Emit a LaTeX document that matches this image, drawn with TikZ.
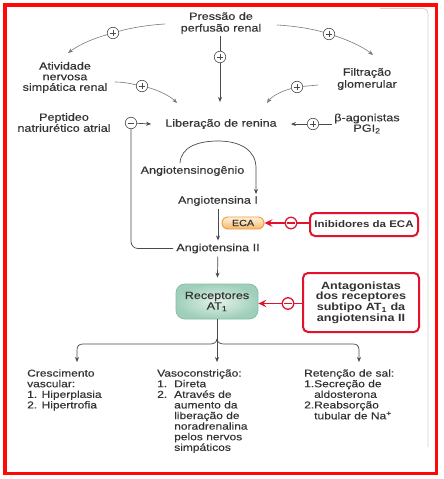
\documentclass[tikz,border=0pt]{standalone}
\usepackage{fontspec}
\setmainfont{Liberation Sans}[FakeStretch=1.2, UprightFeatures={FakeBold=0.3}]
\usetikzlibrary{arrows.meta,shapes.misc}
\definecolor{lnc}{HTML}{4A4A4A}
\definecolor{lightln}{HTML}{7A7A7A}
\definecolor{txt}{HTML}{333333}
\definecolor{redb}{HTML}{E3122C}
\definecolor{framec}{HTML}{FF0808}
\definecolor{ecatop}{HTML}{FFF2DA}
\definecolor{ecabot}{HTML}{F6B86A}
\definecolor{ecaline}{HTML}{EE9A40}
\definecolor{recin}{HTML}{E4F2EA}
\definecolor{recout}{HTML}{9FCFBB}
\definecolor{recline}{HTML}{86BFA9}
\begin{document}
\begin{tikzpicture}[x=1pt,y=-1pt,
  every node/.style={text=txt, font=\fontsize{10.5}{11}\selectfont},
  lbl/.style={inner sep=2pt, align=center},
  blk/.style={inner sep=0pt, anchor=north west, font=\fontsize{10}{10.6}\selectfont},
  plus/.style={circle, draw=lnc, line width=0.6pt, minimum size=11.5pt, inner sep=0pt, fill=white,
    path picture={\draw[lnc,line width=0.7pt]
      ([xshift=-3.3pt]path picture bounding box.center) -- ([xshift=3.3pt]path picture bounding box.center)
      ([yshift=-3.3pt]path picture bounding box.center) -- ([yshift=3.3pt]path picture bounding box.center);}},
  minus/.style={circle, draw=lnc, line width=0.6pt, minimum size=11.5pt, inner sep=0pt, fill=white,
    path picture={\draw[lnc,line width=0.7pt]
      ([xshift=-3.3pt]path picture bounding box.center) -- ([xshift=3.3pt]path picture bounding box.center);}},
  rminus/.style={circle, draw=redb, line width=1.3pt, minimum size=11.5pt, inner sep=0pt, fill=white,
    path picture={\draw[redb,line width=1.3pt]
      ([xshift=-3.8pt]path picture bounding box.center) -- ([xshift=3.8pt]path picture bounding box.center);}},
  ln/.style={lnc, line width=0.7pt},
  softln/.style={lightln, line width=0.6pt},
  arr/.style={lnc, line width=0.7pt, -{Stealth[length=5pt,width=4pt]}},
  softarr/.style={lightln, line width=0.6pt, -{Stealth[length=5pt,width=4pt]}},
  redln/.style={redb, line width=1.7pt},
  rarr/.style={redb, line width=1.7pt, -{Stealth[length=8pt,width=7.5pt,inset=3pt]}},
  redbox/.style={draw=redb, line width=2pt, rounded corners=5pt, fill=white, align=center,
    font=\bfseries\fontsize{10.5}{10.6}\selectfont, inner sep=0pt},
  ecabox/.style={rounded rectangle, draw=ecaline, line width=0.9pt, top color=ecatop, bottom color=ecabot,
    minimum width=42pt, minimum height=12pt, inner sep=0pt, font=\fontsize{9}{10}\selectfont},
  recbox/.style={draw=recline, line width=0.8pt, rounded corners=9pt, inner color=recin, outer color=recout,
    minimum width=82pt, minimum height=35pt, inner sep=0pt, align=center, font=\fontsize{10.5}{10.6}\selectfont}
]
\useasboundingbox (0,0) rectangle (444,479);
\fill[white] (0,0) rectangle (444,479);
% frames
\draw[gray!35, line width=0.8pt] (380,8.5) -- (422,8.5) .. controls (426,8.5) and (428,10.5) .. (428,14) -- (428,447);
\draw[framec, line width=3.5pt] (5,5) rectangle (436.5,473.5);

% text nodes
\node[lbl, font=\fontsize{10.5}{11.7}\selectfont] (pres) at (221,23) {Pressão de\\perfusão renal};
\node[lbl, font=\fontsize{10.5}{10.6}\selectfont] (ativ) at (65,77.5) {Atividade\\nervosa\\simpática renal};
\node[lbl, font=\fontsize{10.5}{12}\selectfont] (filt) at (367,79) {Filtração\\glomerular};
\node[lbl, font=\fontsize{10.5}{11}\selectfont] (pept) at (64,122.5) {Peptideo\\natriurético atrial};
\node[inner xsep=14pt, inner ysep=2pt] (lib) at (221,124) {Liberação de renina};
\node[lbl, font=\fontsize{10.5}{10.5}\selectfont] (beta) at (367,123.5) {β-agonistas\\PGI\textsubscript{2}};
\node[lbl] (angnog) at (192.5,171) {Angiotensinogênio};
\node[lbl, inner sep=3pt] (ang1) at (218,201) {Angiotensina I};
\node[lbl, inner sep=3pt] (ang2) at (218,248.5) {Angiotensina II};
\node[ecabox] (eca) at (243,223) {ECA};
\node[redbox, minimum width=108pt, minimum height=23pt, font=\bfseries\fontsize{9.6}{10}\selectfont] (inib) at (364,224.5) {Inibidores da ECA};
\node[recbox] (rec) at (217,301.5) {Receptores\\AT\textsubscript{1}};
\node[redbox, minimum width=116pt, minimum height=59pt] (antag) at (361,302.5) {Antagonistas\\dos receptores\\subtipo AT\textsubscript{1} da\\angiotensina II};

% signs
\node[plus] (p1) at (113,33) {};
\node[plus] (p2) at (329,34) {};
\node[plus] (p3) at (220,57) {};
\node[plus] (p4) at (142,86) {};
\node[plus] (p5) at (297,87) {};
\node[minus] (m1) at (131,123) {};
\node[plus] (p6) at (313,124) {};
\node[rminus] (m2) at (291,223) {};
\node[rminus] (m3) at (288,303.5) {};

% free ends
\coordinate (c1) at (165,24);
\coordinate (t1) at (68,53);
\coordinate (c2) at (277,25);
\coordinate (t2) at (373,55);
\coordinate (t3) at (220,102);
\coordinate (c4) at (115,82);
\coordinate (t4) at (177,103);
\coordinate (c5) at (318,85);
\coordinate (t5) at (267,103);
\coordinate (c7) at (180,163);
\coordinate (t7) at (256,194);
\coordinate (br) at (217,339);
\coordinate (tL) at (77,362);
\coordinate (tM) at (217,362);
\coordinate (tR) at (359,362);

% top connectors
\draw[softln] (c1) .. controls (148,25) and (130,28) .. (p1);
\draw[softarr] (p1) .. controls (95,38) and (80,44) .. (t1);
\draw[softln] (c2) .. controls (295,26) and (313,29) .. (p2);
\draw[softarr] (p2) .. controls (345,39) and (362,46) .. (t2);
\draw[ln] (p3 |- pres.south) -- (p3);
\draw[arr] (p3) -- (t3);
\draw[softln] (c4) .. controls (125,82) and (132,84) .. (p4);
\draw[softarr] (p4) .. controls (158,90) and (170,96) .. (t4);
\draw[softln] (c5) -- (p5);
\draw[softarr] (p5) .. controls (282,91) and (272,96) .. (t5);
\draw[arr] (m1) -- (lib.west);
\draw[ln] (beta.west |- p6) -- (p6);
\draw[arr] (p6) -- (lib.east);
\draw[ln, rounded corners=7pt] (ang2.west) -| (m1.south);

% cascade
\draw[arr] (c7) .. controls (181,147) and (198,141) .. (218,141) .. controls (240,141) and (256,150) .. (256,168) -- (t7);
\draw[arr] (ang1) -- (ang2);
\draw[redln] (inib.west |- m2) -- (m2);
\draw[rarr] (m2) -- (eca.east);
\draw[arr, shorten >=6pt] (ang2) -- (rec);
\draw[redln] (antag.west |- m3) -- (m3);
\draw[rarr] (m3) -- (rec.east |- m3);

% branches
\draw[arr] (rec) -- (tM);
\draw[arr] (br) .. controls (216.5,342.5) and (214,344) .. (210,344) -- (83,344) .. controls (79,344) and (77,346) .. (77,350) -- (tL);
\draw[arr] (br) .. controls (217.5,342.5) and (220,344) .. (224,344) -- (353,344) .. controls (357,344) and (359,346) .. (359,350) -- (tR);

% bottom blocks
\node[blk] (cres) at (27,369) {\begin{tabular}{@{}l@{}}Crescimento\\vascular:\\1. Hiperplasia\\2. Hipertrofia\end{tabular}};
\node[blk] (vaso) at (157,369) {\begin{tabular}{@{}l@{\hspace{7pt}}l@{}}\multicolumn{2}{@{}l@{}}{Vasoconstrição:}\\1. & Direta\\2. & Através de\\ & aumento da\\ & liberação de\\ & noradrenalina\\ & pelos nervos\\ & simpáticos\end{tabular}};
\node[blk] (ret) at (304,369) {\begin{tabular}{@{}l@{}l@{}}\multicolumn{2}{@{}l@{}}{Retenção de sal:}\\1.&Secreção de\\ &aldosterona\\2.&Reabsorção\\ &tubular de Na\textsuperscript{+}\end{tabular}};
\end{tikzpicture}
\end{document}
